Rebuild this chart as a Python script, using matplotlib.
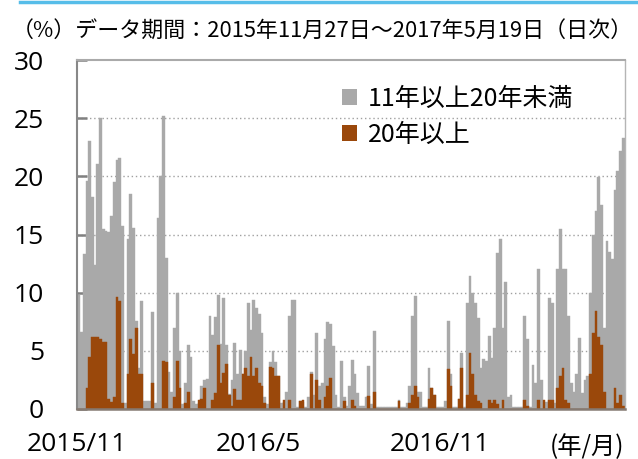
import matplotlib
matplotlib.use("Agg")
import matplotlib.pyplot as plt
from matplotlib.patches import Patch
import numpy as np

plt.rcParams['font.family'] = ['Noto Sans CJK JP', 'DejaVu Sans']

# ---- data (~every 2 business days) ----
gray_11_20 = [
    9.8, 6.6, 13.3, 19.6, 23.0, 18.2, 12.4, 21.1, 25.0, 15.5,
    15.3, 15.2, 16.6, 19.5, 21.4, 21.6, 15.7, 0.5, 14.6, 18.5,
    15.6, 7.6, 3.5, 9.3, 0.7, 0.7, 0.7, 8.3, 0.5, 16.4,
    20.0, 25.2, 13.0, 3.2, 1.5, 7.0, 10.0, 5.0, 0.4, 2.2,
    5.5, 4.5, 0.7, 0.4, 0.5, 2.0, 2.5, 2.6, 8.0, 6.4,
    7.9, 9.8, 5.6, 9.5, 5.5, 1.3, 2.5, 5.7, 3.0, 5.1,
    3.0, 5.0, 9.1, 6.8, 9.4, 8.7, 8.2, 6.5, 1.0, 0.4,
    4.0, 5.0, 4.0, 2.8, 0.5, 0.6, 1.5, 8.0, 9.4, 9.4,
    0.2, 0.7, 0.6, 0.2, 1.0, 3.2, 1.2, 6.5, 2.0, 2.2,
    6.0, 7.5, 7.3, 5.4, 1.2, 0.2, 4.1, 1.0, 0.3, 2.0,
    4.2, 3.0, 1.4, 0.3, 0.3, 1.0, 3.7, 0.4, 6.7, 0.2,
    0.2, 0.2, 0.2, 0.2, 0.2, 0.2, 0.2, 0.8, 0.2, 0.2,
    0.5, 2.0, 8.0, 9.7, 1.5, 1.5, 0.2, 0.2, 3.5, 1.8,
    1.2, 0.2, 0.2, 0.2, 0.7, 7.6, 3.0, 0.2, 0.2, 0.9,
    4.8, 0.2, 9.1, 11.4, 10.0, 9.1, 7.8, 3.5, 4.3, 4.1,
    6.3, 4.4, 7.0, 13.4, 14.6, 7.0, 10.9, 1.0, 1.2, 0.2,
    0.2, 0.2, 0.2, 8.0, 6.0, 0.2, 3.8, 2.2, 12.0, 2.5,
    0.5, 0.6, 9.5, 9.1, 0.5, 12.0, 15.5, 12.0, 12.0, 8.0,
    2.2, 1.5, 3.0, 6.1, 1.4, 2.5, 2.8, 10.0, 15.0, 17.0,
    19.9, 17.5, 7.0, 14.4, 13.5, 12.9, 18.8, 20.5, 22.2, 23.3,
]
brown_20plus = [
    0, 0, 0, 1.8, 4.5, 6.2, 6.2, 6.2, 6.0, 5.8,
    5.8, 0.9, 0.6, 1.0, 9.6, 9.3, 0.5, 0, 3.0, 6.0,
    4.7, 7.0, 3.0, 3.0, 0, 0, 0, 2.2, 0, 0,
    0, 4.1, 4.0, 0, 0, 1.0, 4.1, 1.8, 0, 0.5,
    1.5, 0, 0, 0, 0.8, 0.9, 1.8, 0, 0, 0.8,
    1.4, 5.5, 2.2, 3.1, 3.9, 1.2, 0.3, 1.7, 0.8, 0.8,
    3.0, 3.5, 2.8, 4.5, 2.8, 3.5, 2.2, 2.0, 0.5, 0,
    3.6, 3.5, 2.8, 2.8, 0, 0.8, 0, 0.8, 0, 0,
    0, 0.7, 0.8, 0, 0, 3.0, 0, 2.5, 0.8, 0,
    1.0, 2.0, 2.7, 0, 0, 0, 0, 0.7, 0, 0,
    0.8, 0.3, 0, 0, 0, 0, 1.1, 0, 1.5, 0,
    0, 0, 0, 0, 0, 0, 0, 0.7, 0, 0,
    0, 0.5, 1.2, 2.0, 1.0, 0, 0, 0, 0.9, 1.8,
    1.2, 0, 0, 0, 0, 3.4, 2.0, 0, 0, 0.9,
    3.5, 0, 1.2, 4.8, 3.0, 1.2, 0.7, 0.5, 0, 0,
    0.8, 0.5, 0.8, 0.4, 0, 0.8, 0, 0, 0, 0,
    0, 0, 0, 0.8, 0.3, 0, 0, 0, 0.8, 0,
    0.8, 0, 0.8, 0.8, 0, 1.8, 2.8, 3.5, 0.8, 0.5,
    0, 0, 0, 0, 0, 0, 0, 3.0, 6.5, 8.4,
    6.2, 5.5, 1.5, 0, 0, 0, 1.8, 0.5, 1.2, 0.3,
]
series_names = ['11年以上20年未満', '20年以上']
x_tick_labels = ['2015/11', '2016/5', '2016/11']
x_tick_pos = [-0.5, 65.5, 132.0]
y_ticks = [0, 5, 10, 15, 20, 25, 30]
title = '（%）データ期間：2015年11月27日～2017年5月19日（日次）'
x_unit = '(年/月)'

GRAY = '#a9a9a9'
BROWN = '#9a480b'
NUM_FONT = ['Open Sans', 'Noto Sans CJK JP']

fig = plt.figure(figsize=(6.38, 4.59), dpi=100)
ax = fig.add_axes([77.3 / 638, 1 - 409 / 459, 547.4 / 638, 349 / 459])

x = np.arange(len(gray_11_20))
ax.bar(x, gray_11_20, width=1.0, color=GRAY, edgecolor=GRAY, linewidth=0.3, zorder=2)
ax.bar(x, brown_20plus, width=1.0, color=BROWN, edgecolor=BROWN, linewidth=0.3, zorder=3)

ax.set_xlim(-0.5, len(x) - 0.5)
ax.set_ylim(0, 30)
ax.set_yticks(y_ticks)
ax.set_yticklabels([str(v) for v in y_ticks], fontsize=19, family=NUM_FONT)
ax.set_xticks(x_tick_pos)
ax.set_xticklabels(x_tick_labels, fontsize=19, family=NUM_FONT)
ax.tick_params(axis='x', length=0, pad=16.5)
ax.tick_params(axis='y', direction='in', length=7, width=1.8, color='#808080', pad=24)

for v in y_ticks[1:-1]:
    ax.axhline(v, color='#a0a0a0', lw=1.0, ls=(0, (1, 2)), zorder=1)

ax.spines['left'].set_color('#888888')
ax.spines['left'].set_linewidth(1.5)
ax.spines['bottom'].set_color('#857a72')
ax.spines['bottom'].set_linewidth(1.8)
ax.spines['top'].set_color('#aaaaaa')
ax.spines['top'].set_linewidth(1.5)
ax.spines['right'].set_color('#b5b5b5')
ax.spines['right'].set_linewidth(1.0)
for s in ax.spines.values():
    s.set_zorder(5)

handles = [Patch(facecolor=GRAY, edgecolor='none'), Patch(facecolor=BROWN, edgecolor='none')]
leg = ax.legend(handles, series_names, loc='upper left', bbox_to_anchor=(0.483, 0.926),
                frameon=False, fontsize=18, handlelength=0.6, handleheight=0.65,
                handletextpad=0.45, labelspacing=0.4, borderpad=0, borderaxespad=0)

ax.text(1.0, -0.108, x_unit, transform=ax.transAxes, ha='right', va='center', fontsize=17.5)

fig.text(12 / 638, 1 - 31 / 459, title, ha='left', va='center', fontsize=15.8)
fig.add_artist(plt.Line2D([20 / 638, 1.0], [1 - 2 / 459, 1 - 2 / 459], color='#56bde9', lw=2.5,
                          transform=fig.transFigure))

fig.savefig('out.png', dpi=100)
